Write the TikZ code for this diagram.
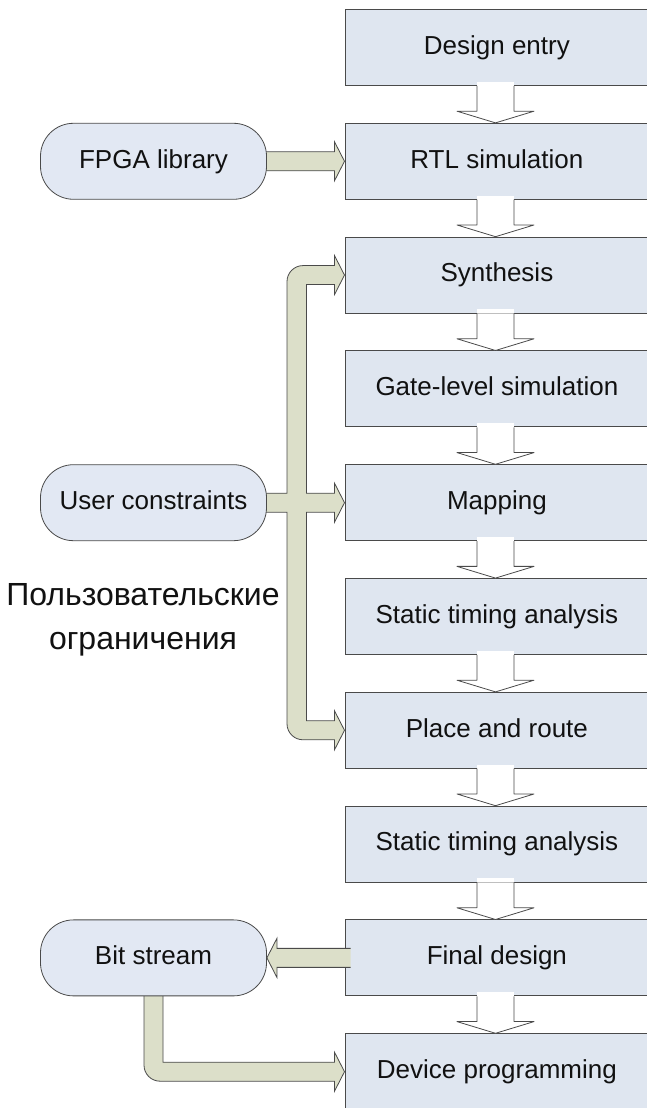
\documentclass[tikz,border=0pt]{standalone}
\usepackage{fontspec}
\setmainfont{Liberation Sans}
\usetikzlibrary{calc}
\pgfdeclarelayer{background}
\pgfsetlayers{background,main}

\definecolor{boxfill}{HTML}{DFE6F0}
\definecolor{pillfill}{HTML}{E2E8F3}
\definecolor{busfill}{HTML}{DCDFC9}
\definecolor{edgegray}{HTML}{4A4A4A}
\definecolor{inktext}{HTML}{111111}

\begin{document}
\begin{tikzpicture}[x=1pt,y=1pt,
  label font/.style={font=\fontsize{26}{30}\selectfont, text=inktext,
    text height=18.6pt, text depth=5pt},
  stage/.style={label font, draw=edgegray, line width=0.8pt, fill=boxfill,
    anchor=west, minimum width=304pt, minimum height=76pt, inner sep=0pt},
  source/.style={label font, draw=edgegray, line width=0.8pt, fill=pillfill,
    rounded corners=33pt, minimum width=226pt, minimum height=76pt, inner sep=0pt},
  flowarrow/.style={fill=white, draw=edgegray, line width=0.8pt, line join=round},
  bus/.style={fill=busfill, draw=edgegray, line width=0.8pt, line join=miter},
]
\useasboundingbox (0,0) rectangle (646,1108);

% design flow stages
\foreach \i/\t in {0/Design entry, 1/RTL simulation, 2/Synthesis,
    3/Gate-level simulation, 4/Mapping, 5/Static timing analysis,
    6/Place and route, 7/Static timing analysis, 8/Final design,
    9/Device programming}
  \node[stage] (b\i) at (344.5, 1060.5-113.8*\i) {\t};

% inputs and outputs
\node[source] (fpga) at (153.5, 946.7) {FPGA library};
\node[source] (user) at (153.5, 605.3) {User constraints};
\node[source] (bits) at (153.5, 150.1) {Bit stream};

\node[font=\fontsize{32}{43.5}\selectfont, text=inktext, align=center, inner sep=0pt]
  (note) at (143, 488) {Пользовательские\\ограничения};

% guides for the constraint bus and the stage arrows
\coordinate (busL) at (287,0);
\coordinate (busR) at (306.5,0);
\coordinate (ax) at (495.5,0);

\begin{pgfonlayer}{background}
  \fill[white] (0,0) rectangle (646,1108);

  % library feeds RTL simulation
  \filldraw[bus] ($(fpga.east)+(-4,9.5)$) -- ($(b1.west)+(-10,9.5)$)
    -- ($(b1.west)+(-10,19.5)$) -- (b1.west) -- ($(b1.west)+(-10,-19.5)$)
    -- ($(b1.west)+(-10,-9.5)$) -- ($(fpga.east)+(-4,-9.5)$);

  % constraints bus to synthesis, mapping and place-and-route
  \filldraw[bus] ($(user.east)+(-4,9.5)$) -- ($(user.east -| busL)+(0,9.5)$)
    -- ($(b2.west -| busL)+(0,-6.5)$) arc[start angle=180, end angle=90, radius=16pt]
    -- ($(b2.west)+(-10,9.5)$) -- ($(b2.west)+(-10,19.5)$) -- (b2.west)
    -- ($(b2.west)+(-10,-19.5)$) -- ($(b2.west)+(-10,-9.5)$)
    -- ($(b2.west -| busR)+(0,-9.5)$) -- ($(b4.west -| busR)+(0,9.5)$)
    -- ($(b4.west)+(-10,9.5)$) -- ($(b4.west)+(-10,19.5)$) -- (b4.west)
    -- ($(b4.west)+(-10,-19.5)$) -- ($(b4.west)+(-10,-9.5)$)
    -- ($(b4.west -| busR)+(0,-9.5)$) -- ($(b6.west -| busR)+(0,9.5)$)
    -- ($(b6.west)+(-10,9.5)$) -- ($(b6.west)+(-10,19.5)$) -- (b6.west)
    -- ($(b6.west)+(-10,-19.5)$) -- ($(b6.west)+(-10,-9.5)$)
    -- ($(b6.west -| busL)+(16,-9.5)$) arc[start angle=270, end angle=180, radius=16pt]
    -- ($(user.east -| busL)+(0,-9.5)$) -- ($(user.east)+(-4,-9.5)$);

  % bit stream to device programming
  \filldraw[bus] ($(bits.south)+(9.5,3)$) -- ($(b9.west -| bits.south)+(9.5,9.5)$)
    -- ($(b9.west)+(-10,9.5)$) -- ($(b9.west)+(-10,19.5)$) -- (b9.west)
    -- ($(b9.west)+(-10,-19.5)$) -- ($(b9.west)+(-10,-9.5)$)
    -- ($(b9.west -| bits.south)+(6.5,-9.5)$) arc[start angle=270, end angle=180, radius=16pt]
    -- ($(bits.south)+(-9.5,3)$);
\end{pgfonlayer}

% final design produces the bit stream
\filldraw[bus] ($(b8.west)+(6,9.5)$) -- ($(bits.east)+(10,9.5)$)
  -- ($(bits.east)+(10,19.5)$) -- (bits.east) -- ($(bits.east)+(10,-19.5)$)
  -- ($(bits.east)+(10,-9.5)$) -- ($(b8.west)+(6,-9.5)$);

% hollow arrows between consecutive stages
\foreach \i/\j in {0/1,1/2,2/3,3/4,4/5,5/6,6/7,7/8,8/9} {
  \coordinate (s) at (b\i.south -| ax);
  \coordinate (n) at (b\j.north -| ax);
  \fill[white] ($(s)+(-18.5,0)$) rectangle ($(s)+(18.5,4)$);
  \filldraw[flowarrow] (s) ++(-18.5,0) -- ($(n)+(-18.5,11.7)$)
    -- ($(n)+(-38.5,11.7)$) -- (n) -- ($(n)+(38.5,11.7)$)
    -- ($(n)+(18.5,11.7)$) -- ($(s)+(18.5,0)$);
}
\end{tikzpicture}
\end{document}
